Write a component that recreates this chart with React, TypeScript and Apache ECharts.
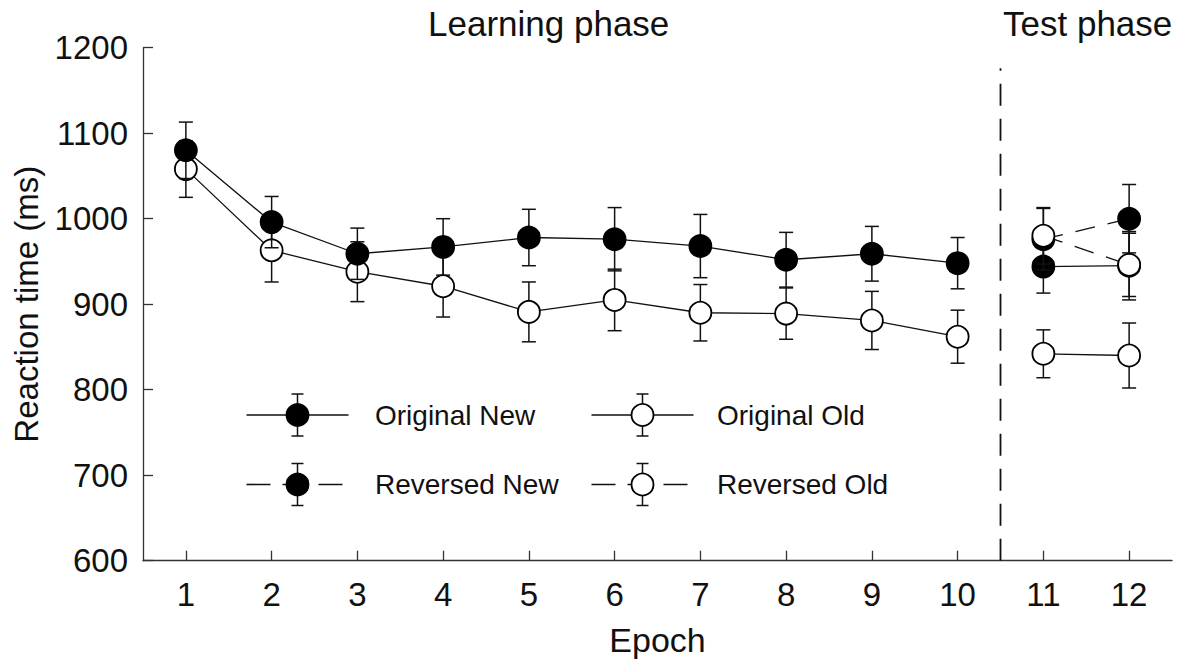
import React, { useEffect, useRef } from "react";
import * as echarts from "echarts";

// ---------------- data ----------------
const epochs = ["1", "2", "3", "4", "5", "6", "7", "8", "9", "10", "11", "12"];
const learningEpochCount = 10;

const originalNewMean = [1080, 996, 959, 967, 978, 976, 968, 952, 959, 948, 944, 945];
const originalNewErr = [33, 30, 30, 33, 33, 37, 37, 32, 32, 30, 31, 40];

const originalOldMean = [1058, 963, 938, 921, 891, 905, 890, 889, 881, 862, 842, 840];
const originalOldErr = [33, 37, 35, 36, 35, 36, 33, 30, 34, 31, 28, 38];

const reversedNewMean = [null, null, null, null, null, null, null, null, null, null, 976, 1000];
const reversedNewErr = [null, null, null, null, null, null, null, null, null, null, 36, 40];

const reversedOldMean = [null, null, null, null, null, null, null, null, null, null, 980, 946];
const reversedOldErr = [null, null, null, null, null, null, null, null, null, null, 33, 37];

const yTicks = { min: 600, max: 1200, interval: 100 };
const separatorTop = 1176;

const phaseTitles = ["Learning phase", "Test phase"];
const legendNames = ["Original New", "Original Old", "Reversed New", "Reversed Old"];

// ---------------- helpers ----------------
const FONT = '"Liberation Sans", Arial, Helvetica, sans-serif';
const INK = "#111";

function phaseData(means: (number | null)[], phase: "learn" | "test") {
  return means.map((v, i) => {
    const inPhase = phase === "learn" ? i < learningEpochCount : i >= learningEpochCount;
    return inPhase && v != null ? v : "-";
  });
}

function errData(means: (number | null)[], errs: (number | null)[], phase: "learn" | "test") {
  const out: number[][] = [];
  means.forEach((m, i) => {
    const e = errs[i];
    const inPhase = phase === "learn" ? i < learningEpochCount : i >= learningEpochCount;
    if (inPhase && m != null && e != null) out.push([i, m - e, m + e]);
  });
  return out;
}

const errRender = (params: any, api: any) => {
  const x = api.value(0);
  const lo = api.coord([x, api.value(1)]);
  const hi = api.coord([x, api.value(2)]);
  const cap = 7;
  const style = { stroke: INK, lineWidth: 1.5 };
  return {
    type: "group",
    children: [
      { type: "line", shape: { x1: lo[0], y1: lo[1], x2: hi[0], y2: hi[1] }, style },
      { type: "line", shape: { x1: lo[0] - cap, y1: lo[1], x2: lo[0] + cap, y2: lo[1] }, style },
      { type: "line", shape: { x1: hi[0] - cap, y1: hi[1], x2: hi[0] + cap, y2: hi[1] }, style },
    ],
  };
};

const separatorRender = (params: any, api: any) => {
  const a = api.coord([learningEpochCount - 1, yTicks.min]);
  const b = api.coord([learningEpochCount, separatorTop]);
  const x = (a[0] + b[0]) / 2;
  return {
    type: "line",
    shape: { x1: x, y1: a[1], x2: x, y2: b[1] },
    style: { stroke: INK, lineWidth: 1.8, lineDash: [22, 13] },
  };
};

function lineSeries(name: string, data: any[], filled: boolean, dashed: boolean, z: number) {
  return {
    name,
    type: "line",
    data,
    z,
    silent: true,
    symbol: "circle",
    symbolSize: 22,
    showSymbol: true,
    connectNulls: false,
    lineStyle: { color: INK, width: 1.3, type: dashed ? [20, 13] : "solid" },
    itemStyle: { color: filled ? "#000" : "#fff", borderColor: "#000", borderWidth: 1.8 },
    emphasis: { disabled: true },
  };
}

function errSeries(data: number[][], z: number) {
  return {
    type: "custom",
    data,
    z,
    silent: true,
    renderItem: errRender,
    encode: { x: 0, y: [1, 2] },
  };
}

// legend drawn with graphic primitives
function legendItem(cx: number, cy: number, filled: boolean, dashed: boolean, label: string, textX: number) {
  const lineStyle: any = { stroke: INK, lineWidth: 1.6 };
  if (dashed) lineStyle.lineDash = [24, 12];
  const capStyle = { stroke: INK, lineWidth: 1.5 };
  return [
    { type: "line", shape: { x1: cx - 51, y1: cy, x2: cx + (dashed ? 46 : 51), y2: cy }, style: lineStyle, z: 10 },
    { type: "line", shape: { x1: cx, y1: cy - 21, x2: cx, y2: cy + 21 }, style: capStyle, z: 10 },
    { type: "line", shape: { x1: cx - 6, y1: cy - 21, x2: cx + 6, y2: cy - 21 }, style: capStyle, z: 10 },
    { type: "line", shape: { x1: cx - 6, y1: cy + 21, x2: cx + 6, y2: cy + 21 }, style: capStyle, z: 10 },
    {
      type: "circle",
      shape: { cx, cy, r: 11 },
      style: { fill: filled ? "#000" : "#fff", stroke: "#000", lineWidth: 1.8 },
      z: 11,
    },
    {
      type: "text",
      x: textX,
      y: cy,
      style: { text: label, fontSize: 28, fontFamily: FONT, fill: INK, verticalAlign: "middle", align: "left" },
      z: 11,
    },
  ];
}

export default function App() {
  const ref = useRef<HTMLDivElement>(null);

  useEffect(() => {
    if (!ref.current) return;
    const chart = echarts.init(ref.current, undefined, { renderer: "svg" });

    const axisLine = { show: true, lineStyle: { color: "#333", width: 1.3 } };

    const option: any = {
      animation: false,
      backgroundColor: "#fff",
      grid: {
        left: 143,
        right: 9,
        top: 47.7,
        bottom: 105.3,
        containLabel: false,
        outerBoundsMode: "none",
      },
      xAxis: {
        type: "category",
        data: epochs,
        boundaryGap: true,
        axisLine,
        axisTick: { show: true, inside: true, length: 10, alignWithLabel: true, lineStyle: { color: "#333", width: 1.3 } },
        axisLabel: { fontSize: 33, fontFamily: FONT, color: INK, margin: 17 },
        splitLine: { show: false },
        name: "Epoch",
        nameLocation: "middle",
        nameGap: 62,
        nameTextStyle: { fontSize: 34, fontFamily: FONT, color: INK },
      },
      yAxis: {
        type: "value",
        min: yTicks.min,
        max: yTicks.max,
        interval: yTicks.interval,
        axisLine,
        axisTick: { show: true, inside: true, length: 10, lineStyle: { color: "#333", width: 1.3 } },
        axisLabel: {
          fontSize: 33,
          fontFamily: FONT,
          color: INK,
          margin: 15,
          formatter: (v: number) => String(v),
        },
        splitLine: { show: false },
        name: "Reaction time (ms)",
        nameLocation: "middle",
        nameGap: 100,
        nameTextStyle: { fontSize: 33, fontFamily: FONT, color: INK },
      },
      series: [
        { type: "custom", data: [[0]], z: 1, silent: true, renderItem: separatorRender },
        errSeries(errData(originalOldMean, originalOldErr, "learn"), 2),
        lineSeries(legendNames[1], phaseData(originalOldMean, "learn"), false, false, 3),
        errSeries(errData(originalOldMean, originalOldErr, "test"), 2),
        lineSeries(legendNames[1], phaseData(originalOldMean, "test"), false, false, 3),
        errSeries(errData(originalNewMean, originalNewErr, "learn"), 4),
        lineSeries(legendNames[0], phaseData(originalNewMean, "learn"), true, false, 5),
        errSeries(errData(originalNewMean, originalNewErr, "test"), 4),
        lineSeries(legendNames[0], phaseData(originalNewMean, "test"), true, false, 5),
        errSeries(errData(reversedNewMean, reversedNewErr, "test"), 6),
        lineSeries(legendNames[2], phaseData(reversedNewMean, "test"), true, true, 7),
        errSeries(errData(reversedOldMean, reversedOldErr, "test"), 8),
        lineSeries(legendNames[3], phaseData(reversedOldMean, "test"), false, true, 9),
      ],
      graphic: [
        {
          type: "text",
          x: 428,
          y: 23,
          style: { text: phaseTitles[0], fontSize: 35, fontFamily: FONT, fill: INK, verticalAlign: "middle", align: "left" },
        },
        {
          type: "text",
          x: 1003,
          y: 23,
          style: { text: phaseTitles[1], fontSize: 35, fontFamily: FONT, fill: INK, verticalAlign: "middle", align: "left" },
        },
        ...legendItem(297.5, 415, true, false, legendNames[0], 375),
        ...legendItem(642.5, 415, false, false, legendNames[1], 717),
        ...legendItem(297.5, 484.5, true, true, legendNames[2], 375),
        ...legendItem(642.5, 484.5, false, true, legendNames[3], 717),
      ],
    };

    chart.setOption(option);
    return () => chart.dispose();
  }, []);

  return (
    <div
      ref={ref}
      style={{ position: "absolute", left: 0, top: 0, width: 1181, height: 666, background: "#fff" }}
    />
  );
}
